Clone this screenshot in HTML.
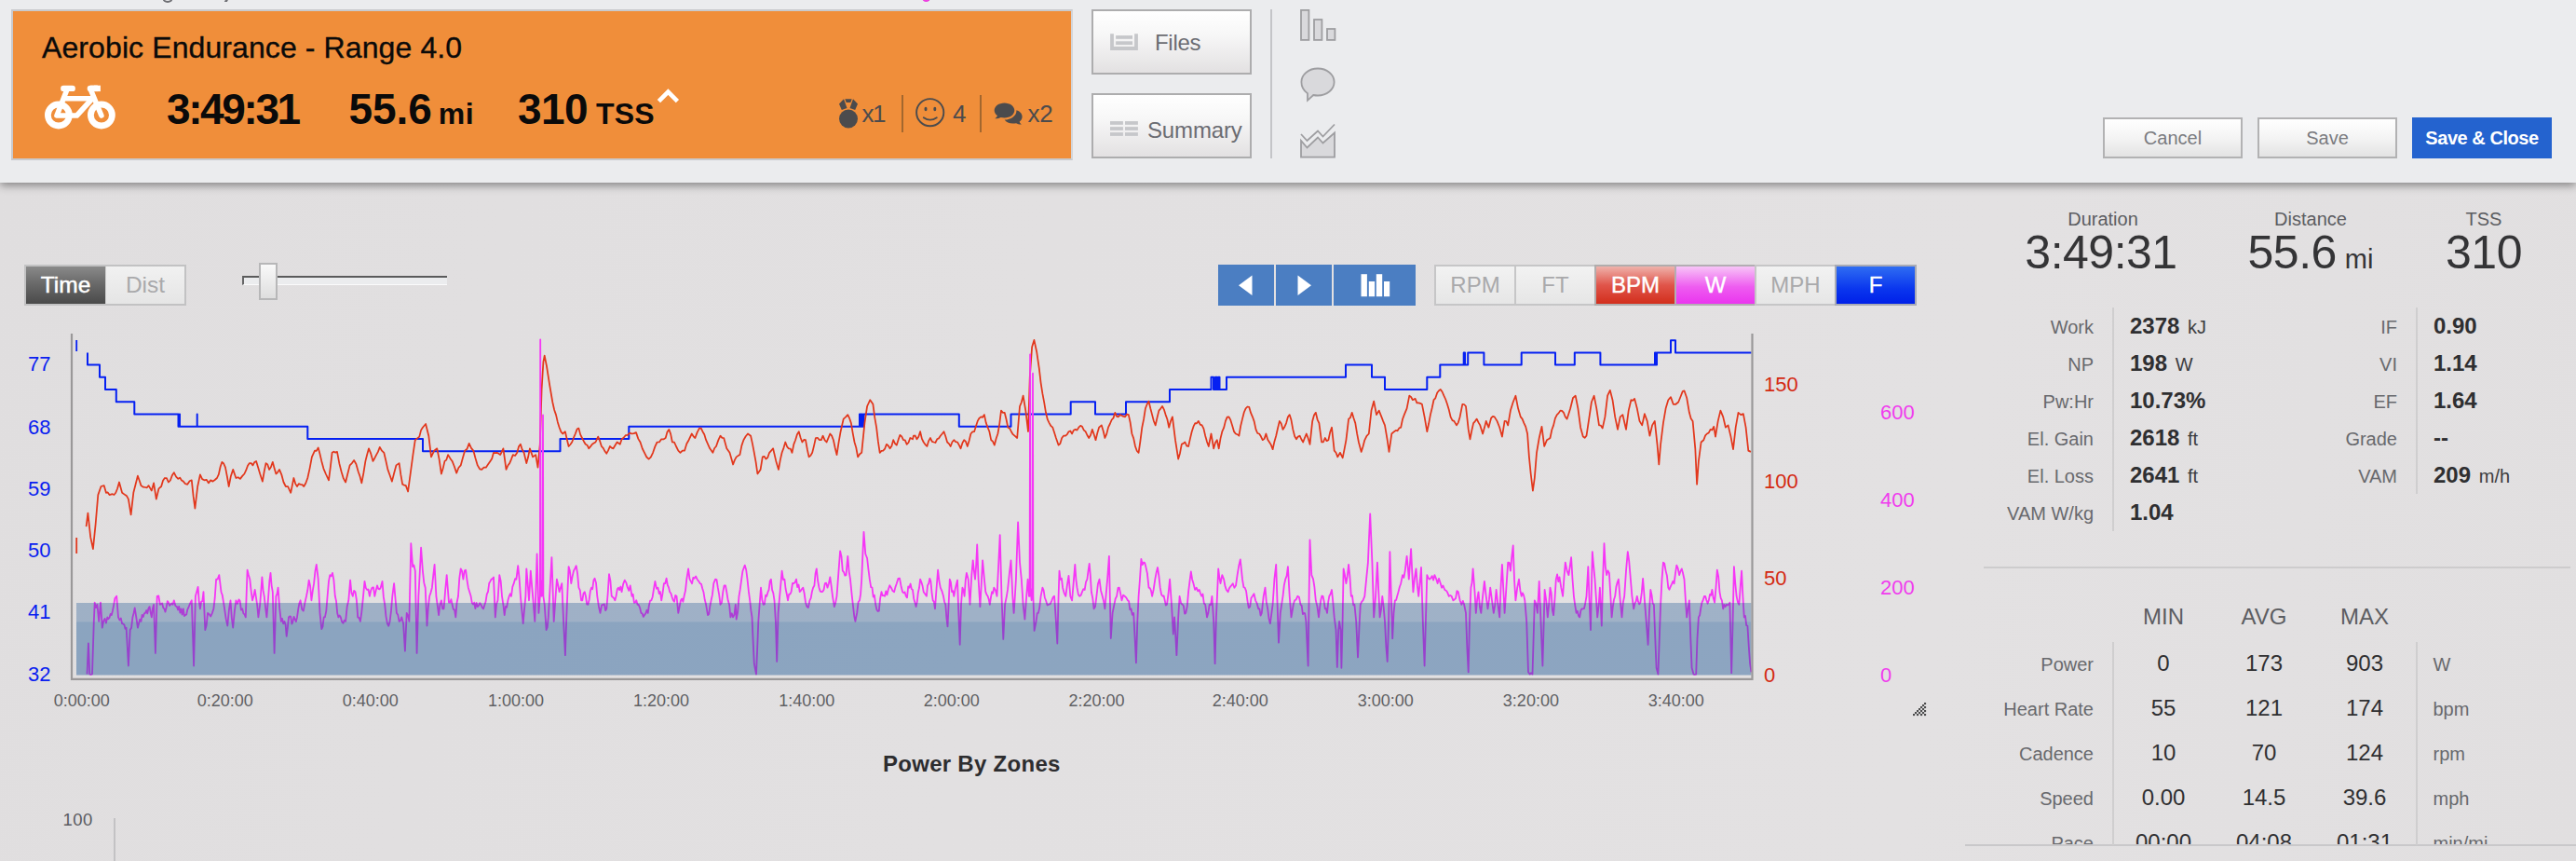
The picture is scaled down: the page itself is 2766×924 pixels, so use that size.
<!DOCTYPE html>
<html lang="en">
<head>
<meta charset="utf-8">
<title>Aerobic Endurance - Range 4.0</title>
<style>
html,body{margin:0;padding:0;}
body{width:2766px;height:924px;overflow:hidden;position:relative;background:#e2e0e1;font-family:"Liberation Sans",Arial,sans-serif;color:#3a3a3c;}
.abs{position:absolute;}
.t{position:absolute;white-space:nowrap;line-height:1;}
#bodybg{left:0;top:0;width:2766px;height:924px;background:linear-gradient(100deg,#e0dedf 0%,#e2e0e1 40%,#e3e1e2 75%,#e1dfe0 100%);}
#hdr{left:0;top:0;width:2766px;height:196px;background:#ebecee;box-shadow:0 3px 9px rgba(0,0,0,.42);}
#orange{left:12px;top:10px;width:1136px;height:158px;background:#f08e3a;border:2px solid #c9cacd;border-right-color:#d4d5d8;}
.btn{position:absolute;box-sizing:border-box;border:2px solid #adadae;background:linear-gradient(#ffffff 0%,#f7f7f7 38%,#e3e1e2 100%);color:#6f7078;}
.btn2{position:absolute;box-sizing:border-box;border:2px solid #b2b2b3;background:linear-gradient(#ffffff 0%,#f4f4f4 50%,#e3e3e3 100%);color:#7a7b7f;font-size:20px;text-align:center;}
.seg{position:absolute;top:284px;height:44px;box-sizing:border-box;font-size:24px;text-align:center;line-height:39px;}
.off{background:linear-gradient(#f2f2f2,#e6e6e6);color:#a9a9ab;border:2px solid #c6c6c7;}
.lab{position:absolute;white-space:nowrap;line-height:1;font-size:20px;color:#68696d;text-align:right;}
.val{position:absolute;white-space:nowrap;line-height:1;font-size:24px;font-weight:bold;color:#2f2f31;}
.val span{font-weight:normal;font-size:20px;margin-left:2px;color:#3c3c3e;}
.num{position:absolute;white-space:nowrap;line-height:1;font-size:24px;color:#2f2f31;text-align:center;width:120px;}
.unit{position:absolute;white-space:nowrap;line-height:1;font-size:20px;color:#68696d;}
.ax{position:absolute;white-space:nowrap;line-height:1;font-size:22px;}
</style>
</head>
<body>
<div id="bodybg" class="abs"></div>

<svg class="abs" style="left:0;top:340px" width="2120" height="420" viewBox="0 340 2120 420">
<g fill="none" stroke-linejoin="round">
<path d="M82.2 365 V377" stroke="#0520f2" stroke-width="1.8"/>
<path d="M82.2 577 V594" stroke="#e0391f" stroke-width="1.8"/>
<path d="M94.0 378.4 L94.0 391.6 L107.0 391.6 L107.0 404.8 L113.0 404.8 L113.0 418.0 L124.8 418.0 L124.8 431.3 L144.3 431.3 L144.3 444.5 L191.5 444.5 L191.5 457.7 L193.0 457.7 L193.0 444.5 L193.0 457.7 L211.7 457.7 L211.7 444.5 L211.7 457.7 L330.3 457.7 L330.3 471.0 L454.0 471.0 L454.0 484.3 L601.5 484.3 L601.5 471.0 L675.3 471.0 L675.3 457.7 L923.0 457.7 L923.0 444.5 L924.0 444.5 L924.0 457.7 L925.0 457.7 L925.0 444.5 L926.0 444.5 L926.0 457.7 L927.5 457.7 L927.5 444.5 L1029.8 444.5 L1029.8 457.7 L1085.5 457.7 L1085.5 444.5 L1149.7 444.5 L1149.7 431.3 L1176.0 431.3 L1176.0 444.5 L1209.0 444.5 L1209.0 431.3 L1256.0 431.3 L1256.0 418.0 L1300.5 418.0 L1300.5 404.8 L1303.0 404.8 L1303.0 418.0 L1305.0 418.0 L1305.0 404.8 L1306.5 404.8 L1306.5 418.0 L1308.0 418.0 L1308.0 404.8 L1309.5 404.8 L1309.5 418.0 L1317.0 418.0 L1317.0 404.8 L1445.0 404.8 L1445.0 391.6 L1473.0 391.6 L1473.0 404.8 L1487.0 404.8 L1487.0 418.0 L1532.3 418.0 L1532.3 404.8 L1546.3 404.8 L1546.3 391.6 L1571.7 391.6 L1571.7 378.4 L1573.0 378.4 L1573.0 391.6 L1576.2 391.6 L1576.2 378.4 L1593.4 378.4 L1593.4 391.6 L1633.7 391.6 L1633.7 378.4 L1670.0 378.4 L1670.0 391.6 L1690.8 391.6 L1690.8 378.4 L1718.4 378.4 L1718.4 391.6 L1777.0 391.6 L1777.0 378.4 L1778.0 378.4 L1778.0 391.6 L1779.0 391.6 L1779.0 378.4 L1794.0 378.4 L1794.0 365.2 L1799.0 365.2 L1799.0 378.4 L1880.5 378.4" stroke="#0520f2" stroke-width="2"/>
<path d="M92.6 565.1 L94.4 550.6 L97.2 576.4 L99.9 589.1 L102.6 562.8 L105.3 531.1 L108.5 522.0 L111.7 521.1 L113.9 528.8 L115.7 528.4 L117.5 531.1 L120.7 530.2 L122.5 531.0 L124.3 528.8 L126.1 524.3 L128.0 517.5 L131.1 528.8 L134.3 531.1 L136.1 532.3 L137.9 535.6 L140.6 552.4 L143.3 528.8 L145.6 519.8 L147.9 510.7 L149.7 515.7 L151.5 521.1 L153.8 522.7 L156.0 523.0 L157.8 523.3 L159.6 521.1 L162.8 526.6 L165.1 518.4 L167.8 535.6 L170.5 524.3 L173.2 522.0 L175.0 515.7 L176.9 513.0 L178.9 513.2 L180.9 517.5 L182.9 515.5 L184.8 510.3 L186.8 507.1 L189.1 511.7 L191.3 513.9 L193.1 512.6 L195.0 515.5 L196.8 516.6 L199.0 519.2 L201.3 519.8 L203.6 516.3 L205.8 515.3 L207.6 532.4 L209.4 545.6 L212.2 522.0 L214.9 509.4 L217.1 514.1 L219.4 515.3 L221.7 514.8 L223.9 518.4 L226.2 515.4 L228.5 516.6 L230.7 515.0 L233.0 513.0 L234.8 509.2 L236.6 501.0 L238.4 495.8 L240.2 497.5 L242.0 501.7 L243.9 511.5 L245.7 522.0 L247.9 510.9 L250.2 503.9 L253.4 513.0 L255.6 512.2 L257.9 513.9 L260.2 510.9 L262.4 508.5 L264.2 504.7 L266.0 499.7 L267.9 497.1 L269.7 497.1 L271.5 499.4 L273.3 495.9 L275.1 494.9 L277.1 501.5 L279.2 508.5 L281.9 516.6 L283.7 506.0 L285.5 497.1 L287.3 498.4 L289.1 503.9 L290.9 501.3 L292.8 495.8 L294.6 502.4 L296.4 508.5 L298.2 506.8 L300.0 503.9 L302.3 509.3 L304.5 517.5 L306.8 522.0 L309.1 522.0 L312.2 528.8 L315.4 513.0 L317.2 519.1 L319.0 522.0 L320.8 519.2 L322.6 519.8 L324.4 520.2 L326.3 522.0 L328.3 518.5 L330.3 513.0 L332.6 502.6 L334.9 490.4 L338.0 483.6 L339.8 483.9 L341.7 480.4 L343.5 487.3 L345.3 494.9 L347.5 503.1 L349.8 508.5 L353.0 515.3 L354.8 501.3 L356.6 485.8 L358.4 484.7 L360.2 485.6 L362.0 484.9 L364.3 497.2 L366.6 506.2 L368.8 513.4 L371.1 517.5 L373.3 508.5 L375.6 499.4 L377.9 497.1 L380.1 494.0 L382.4 498.0 L384.7 506.2 L386.5 511.2 L388.3 518.4 L390.3 508.0 L392.4 494.9 L394.2 487.7 L396.0 481.3 L398.2 486.7 L400.5 494.9 L402.3 491.7 L404.1 488.1 L405.9 484.9 L407.8 479.9 L410.0 483.7 L412.3 485.8 L414.3 494.3 L416.4 503.9 L418.6 510.0 L420.9 516.6 L423.1 508.0 L425.4 499.4 L428.6 497.1 L430.4 509.7 L432.2 519.8 L434.0 520.6 L435.8 521.1 L438.1 527.5 L441.3 503.9 L443.5 487.6 L445.8 472.2 L448.1 470.4 L450.3 468.6 L452.1 461.6 L453.9 458.7 L457.1 455.0 L460.3 467.7 L463.0 490.4 L466.2 483.6 L469.3 481.3 L471.6 492.9 L473.9 508.5 L475.7 502.6 L477.5 494.9 L479.3 493.6 L481.1 488.1 L483.4 491.9 L485.6 494.9 L487.9 500.8 L490.2 507.6 L492.4 502.0 L494.7 499.4 L496.9 491.5 L499.2 483.6 L501.5 481.8 L503.7 475.9 L506.0 480.9 L508.3 483.6 L510.5 491.7 L512.8 499.4 L515.1 503.3 L517.3 503.9 L519.6 501.6 L521.8 501.7 L524.1 498.3 L526.4 494.9 L528.2 492.3 L530.0 485.8 L531.8 486.2 L533.6 485.8 L535.4 486.8 L537.2 488.1 L540.4 481.3 L543.5 503.9 L545.4 499.5 L547.2 497.1 L549.0 492.8 L550.8 488.1 L553.1 489.0 L555.3 485.8 L557.1 479.1 L558.9 476.8 L560.7 482.5 L562.6 485.8 L565.3 497.1 L567.1 490.6 L568.9 481.3 L572.1 490.4 L575.2 488.1 L577.5 501.7 L579.8 476.8 L581.6 417.9 L583.4 388.5 L584.7 381.7 L587.0 393.0 L590.2 413.4 L593.3 431.5 L595.2 440.0 L597.0 445.1 L598.8 452.9 L600.6 458.7 L602.4 463.4 L604.2 465.5 L606.9 463.2 L608.7 471.2 L610.6 479.0 L612.4 477.0 L614.2 474.5 L616.0 469.7 L617.8 465.5 L619.6 460.6 L621.4 459.6 L623.2 466.4 L625.0 470.0 L626.9 473.7 L628.7 476.8 L630.5 477.7 L632.3 481.3 L634.1 479.1 L635.9 476.8 L637.7 475.6 L639.5 474.5 L642.2 468.6 L644.1 473.2 L645.9 479.0 L647.7 480.9 L649.5 484.3 L651.3 486.7 L653.1 483.4 L654.9 479.0 L656.7 480.7 L658.5 481.3 L660.6 477.7 L662.6 474.5 L665.8 476.8 L667.6 471.3 L669.4 470.0 L671.7 467.2 L673.9 466.8 L676.2 464.7 L678.5 465.5 L680.7 465.1 L683.0 464.1 L685.3 470.9 L687.5 474.5 L689.8 481.5 L692.0 485.8 L694.3 490.5 L696.6 492.6 L698.8 490.6 L701.1 485.8 L703.4 479.1 L705.6 474.5 L707.9 474.4 L710.2 471.3 L712.4 471.4 L714.7 470.0 L716.5 463.6 L718.3 460.9 L720.1 465.6 L721.9 474.5 L724.0 474.6 L726.0 479.0 L728.3 483.6 L730.5 485.8 L732.8 483.6 L735.1 483.6 L737.3 476.2 L739.6 472.2 L742.8 465.5 L744.6 468.3 L746.4 470.0 L748.6 464.1 L750.9 459.6 L752.7 459.5 L754.5 463.2 L756.3 466.2 L758.1 472.2 L760.2 476.9 L762.2 481.3 L765.4 485.8 L767.2 481.0 L769.0 479.0 L771.3 472.4 L773.5 467.7 L775.4 469.8 L777.2 470.0 L780.3 481.3 L783.5 485.8 L785.3 492.0 L787.1 498.5 L788.9 493.6 L790.7 490.4 L792.6 489.1 L794.4 488.1 L796.4 478.1 L798.4 472.2 L800.7 468.3 L803.0 465.5 L806.1 467.7 L808.0 476.4 L809.8 485.8 L811.6 495.8 L813.4 508.5 L816.6 503.9 L818.8 490.4 L820.6 489.8 L822.4 492.6 L824.3 491.0 L826.1 485.8 L828.1 483.6 L830.1 481.3 L833.3 494.9 L836.0 503.9 L837.8 493.6 L839.6 485.8 L841.5 480.6 L843.3 474.5 L845.1 479.3 L846.9 481.3 L848.7 481.5 L850.5 485.8 L852.3 476.9 L854.1 472.2 L855.9 466.2 L857.8 463.2 L859.6 469.8 L861.4 474.5 L863.2 471.9 L865.0 472.2 L866.8 482.2 L868.6 490.4 L870.4 488.9 L872.2 485.8 L874.1 478.1 L875.9 470.0 L877.9 469.9 L879.9 472.2 L881.8 472.1 L883.6 467.7 L885.6 472.4 L887.6 474.5 L889.4 470.1 L891.3 465.5 L893.1 467.6 L894.9 472.2 L896.7 480.8 L898.5 488.1 L900.5 475.2 L902.6 463.2 L905.7 449.6 L908.0 447.7 L910.3 445.1 L912.1 448.8 L913.9 454.1 L915.7 464.9 L917.5 474.5 L919.3 480.5 L921.1 490.4 L923.2 487.2 L925.2 485.8 L928.4 454.1 L931.1 436.0 L934.3 429.2 L937.4 433.8 L939.3 448.3 L941.1 458.7 L942.9 473.9 L944.7 485.8 L946.5 483.8 L948.3 483.6 L950.1 481.7 L951.9 476.8 L953.7 478.2 L955.6 481.3 L957.4 478.7 L959.2 472.2 L961.0 476.0 L962.8 477.7 L964.6 471.9 L966.4 466.8 L968.2 468.4 L970.0 472.2 L971.8 472.3 L973.7 476.8 L975.5 475.0 L977.3 470.0 L980.0 471.3 L980.9 467.7 L982.7 467.5 L984.5 471.3 L986.3 468.7 L988.1 463.2 L989.9 470.9 L991.7 474.5 L993.5 477.1 L995.4 479.0 L997.2 473.1 L999.0 470.0 L1000.8 473.9 L1002.6 474.5 L1004.4 475.0 L1006.2 471.3 L1008.0 470.4 L1009.8 467.7 L1011.7 465.5 L1013.5 463.2 L1015.3 468.3 L1017.1 474.5 L1018.9 476.1 L1020.7 479.0 L1022.5 474.3 L1024.3 472.2 L1026.1 474.1 L1028.0 474.5 L1029.8 477.6 L1031.6 481.3 L1033.4 475.4 L1035.2 472.2 L1037.0 473.9 L1038.8 479.0 L1040.6 473.0 L1042.4 465.5 L1044.3 463.4 L1046.1 463.2 L1047.9 457.5 L1049.7 451.9 L1051.5 448.8 L1053.3 447.3 L1055.1 447.8 L1056.9 445.1 L1058.7 453.6 L1060.6 458.7 L1062.4 463.3 L1064.2 472.2 L1066.0 473.6 L1067.8 477.7 L1069.6 470.8 L1071.4 465.5 L1073.2 455.1 L1075.0 440.6 L1076.9 442.9 L1078.7 442.8 L1080.5 450.0 L1082.3 458.7 L1084.1 459.7 L1085.9 463.2 L1087.7 466.2 L1089.5 467.7 L1092.2 470.0 L1095.0 436.0 L1096.8 431.8 L1098.6 424.7 L1101.3 440.6 L1104.0 463.2 L1105.8 404.3 L1108.1 372.6 L1110.4 364.9 L1113.1 377.2 L1115.8 395.3 L1117.6 410.8 L1119.4 422.4 L1121.2 431.9 L1123.0 442.8 L1124.8 450.2 L1126.7 454.1 L1128.5 457.2 L1130.3 458.7 L1132.1 464.3 L1133.9 470.0 L1136.6 477.7 L1138.4 476.0 L1140.2 470.0 L1142.0 467.7 L1143.9 467.7 L1145.7 466.4 L1147.5 463.2 L1149.3 462.5 L1151.1 465.5 L1152.9 461.7 L1154.7 460.9 L1156.5 461.6 L1158.3 458.7 L1160.2 456.9 L1162.0 457.8 L1163.8 461.6 L1165.6 463.2 L1167.4 467.0 L1169.2 470.0 L1171.0 467.0 L1172.8 460.9 L1174.6 466.0 L1176.5 472.2 L1178.3 464.7 L1180.1 458.7 L1182.8 456.4 L1184.6 462.3 L1186.4 470.0 L1188.2 465.9 L1190.0 458.7 L1191.8 455.0 L1193.7 450.5 L1195.5 448.7 L1197.3 442.8 L1199.1 446.8 L1200.9 447.3 L1202.7 445.1 L1204.5 446.0 L1206.3 446.9 L1208.1 447.3 L1210.0 444.5 L1211.8 445.1 L1213.6 453.2 L1215.4 465.5 L1217.2 470.4 L1219.0 479.0 L1220.8 484.0 L1222.6 485.8 L1224.4 473.5 L1226.3 458.7 L1228.1 449.9 L1229.9 438.3 L1231.7 433.7 L1233.5 430.6 L1235.3 438.3 L1237.1 445.1 L1238.9 452.0 L1240.7 456.4 L1242.6 447.9 L1244.4 440.6 L1246.2 438.6 L1248.0 436.0 L1249.8 439.3 L1251.6 445.1 L1253.4 450.0 L1255.2 458.7 L1257.0 452.0 L1258.9 447.3 L1262.0 472.2 L1265.2 492.6 L1267.0 486.4 L1268.8 476.8 L1270.6 475.9 L1272.4 474.5 L1274.3 478.6 L1276.1 479.0 L1277.9 470.9 L1279.7 463.2 L1281.5 457.7 L1283.3 454.1 L1285.1 454.3 L1286.9 451.9 L1288.7 455.6 L1290.6 456.4 L1292.4 459.9 L1294.2 467.7 L1296.0 474.1 L1297.8 479.0 L1300.5 465.5 L1303.2 481.3 L1305.0 475.0 L1306.8 472.2 L1308.7 481.3 L1310.5 470.6 L1312.3 463.2 L1314.1 459.2 L1315.9 451.9 L1317.7 447.6 L1319.5 447.3 L1321.3 450.7 L1323.1 456.4 L1325.0 463.1 L1326.8 465.5 L1328.6 466.2 L1330.4 467.7 L1332.2 457.0 L1334.0 449.6 L1335.8 442.5 L1337.6 438.3 L1339.4 436.5 L1341.3 436.9 L1343.1 443.2 L1344.9 447.3 L1346.7 452.4 L1348.5 460.9 L1350.3 465.0 L1352.1 465.5 L1353.9 468.3 L1355.7 472.2 L1357.6 470.9 L1359.4 465.5 L1361.2 471.8 L1363.0 474.5 L1364.8 477.4 L1366.6 482.2 L1368.4 473.9 L1370.2 467.7 L1372.0 459.7 L1373.9 451.9 L1375.7 454.6 L1377.5 460.9 L1379.3 458.2 L1381.1 454.1 L1382.9 447.6 L1384.7 445.1 L1386.5 450.8 L1388.3 460.9 L1390.2 468.3 L1392.0 471.3 L1393.8 468.6 L1395.6 467.7 L1397.4 471.5 L1399.2 474.5 L1401.0 469.8 L1402.8 465.5 L1404.6 470.3 L1406.5 476.8 L1409.2 451.9 L1411.0 445.4 L1412.8 442.8 L1414.6 450.3 L1416.4 454.1 L1419.1 474.5 L1420.9 474.3 L1422.8 470.0 L1424.6 473.2 L1426.4 472.2 L1428.2 463.7 L1430.0 458.7 L1432.7 483.6 L1434.5 485.7 L1436.3 490.4 L1439.0 485.8 L1441.7 491.3 L1443.5 482.3 L1445.4 472.3 L1448.1 449.6 L1449.9 448.3 L1451.7 442.8 L1453.5 448.7 L1455.3 454.1 L1457.1 465.2 L1458.9 474.5 L1461.7 484.9 L1463.5 479.3 L1465.3 472.3 L1467.5 467.8 L1469.8 465.5 L1472.5 440.6 L1475.2 430.6 L1478.0 445.1 L1480.7 440.6 L1483.4 447.4 L1485.2 452.1 L1487.0 456.4 L1489.7 472.3 L1491.5 484.9 L1494.3 465.5 L1497.0 463.2 L1498.8 461.9 L1500.6 462.3 L1502.4 459.4 L1504.2 458.7 L1506.0 450.0 L1507.8 445.1 L1510.6 438.3 L1513.3 424.7 L1515.1 426.0 L1516.9 429.2 L1519.6 427.9 L1521.4 432.3 L1523.2 432.4 L1525.0 432.9 L1526.9 433.8 L1529.6 447.4 L1532.3 463.2 L1534.1 454.8 L1535.9 445.1 L1537.7 437.8 L1539.5 429.2 L1541.3 427.3 L1543.2 421.5 L1545.0 419.2 L1546.8 417.9 L1548.6 420.5 L1550.4 424.7 L1552.2 428.5 L1554.0 433.8 L1555.8 439.8 L1557.6 447.4 L1559.5 451.1 L1561.3 451.9 L1564.0 456.4 L1565.8 453.6 L1567.6 447.4 L1570.3 433.8 L1572.1 434.0 L1574.0 436.0 L1576.7 460.9 L1578.5 471.3 L1580.3 462.0 L1582.1 454.1 L1583.9 452.1 L1585.7 449.6 L1587.5 453.4 L1589.3 456.4 L1592.1 465.5 L1593.9 459.1 L1595.7 451.9 L1598.4 458.7 L1601.1 448.7 L1602.9 446.9 L1604.7 447.4 L1607.5 451.9 L1610.2 458.7 L1612.9 468.6 L1615.6 451.9 L1617.4 452.0 L1619.2 456.4 L1621.9 440.6 L1624.7 431.5 L1627.4 424.7 L1630.1 438.3 L1632.8 447.4 L1634.6 449.6 L1636.4 454.1 L1638.2 457.9 L1640.1 465.5 L1641.9 490.4 L1643.7 508.5 L1645.9 526.6 L1647.8 513.0 L1650.0 485.8 L1652.7 470.0 L1655.5 457.8 L1658.2 479.0 L1660.9 472.3 L1662.7 471.3 L1664.5 470.0 L1666.3 461.3 L1668.1 456.4 L1669.9 448.9 L1671.8 445.1 L1673.6 443.4 L1675.4 440.6 L1677.2 440.8 L1679.0 442.8 L1680.8 447.5 L1682.6 449.6 L1684.4 443.9 L1686.2 438.3 L1689.0 427.0 L1691.7 424.7 L1694.4 438.3 L1697.1 458.7 L1699.8 468.6 L1701.6 469.8 L1703.5 467.7 L1706.2 449.6 L1708.9 431.5 L1711.6 424.7 L1714.3 438.3 L1717.0 456.4 L1718.8 456.5 L1720.7 459.6 L1723.4 447.4 L1726.1 424.7 L1728.8 418.8 L1731.5 429.2 L1734.2 447.4 L1737.0 460.9 L1739.7 447.4 L1742.4 445.1 L1744.2 453.0 L1746.0 460.9 L1748.7 440.6 L1751.4 429.2 L1753.3 429.9 L1755.1 427.9 L1757.8 438.3 L1760.5 451.9 L1763.2 456.4 L1765.9 444.2 L1768.7 451.9 L1771.4 467.7 L1774.1 456.4 L1776.8 451.9 L1779.5 476.8 L1781.3 498.5 L1783.1 476.8 L1785.9 454.1 L1788.6 438.3 L1791.3 429.2 L1794.0 426.1 L1796.7 433.8 L1799.4 433.8 L1802.2 431.5 L1804.9 424.7 L1806.7 420.1 L1808.5 419.3 L1811.2 427.0 L1813.9 442.8 L1815.7 449.3 L1817.6 451.9 L1820.3 481.3 L1822.1 519.8 L1823.9 494.9 L1826.6 474.5 L1829.3 472.3 L1831.1 467.4 L1832.9 465.5 L1834.8 464.4 L1836.6 460.9 L1838.4 461.5 L1840.2 457.8 L1842.0 468.6 L1844.7 451.9 L1847.4 440.6 L1850.2 447.4 L1852.9 458.7 L1855.6 456.4 L1858.3 467.7 L1861.0 482.2 L1863.7 458.7 L1866.5 442.8 L1869.2 445.1 L1871.9 444.2 L1874.6 458.7 L1877.3 483.6 L1880.0 484.9" stroke="#e2371c" stroke-width="1.75"/>
<path d="M93.5 723.5 L94.9 690.5 L96.3 723.5 L97.6 724.0 L99.0 723.5 L100.8 666.9 L101.7 646.6 L103.1 652.2 L104.4 648.8 L106.2 666.9 L108.0 646.6 L109.8 673.7 L111.2 666.5 L112.6 663.9 L113.9 668.6 L115.3 662.4 L116.4 664.2 L117.5 663.0 L118.7 658.8 L119.8 660.1 L121.0 655.2 L122.2 649.1 L123.4 642.0 L125.2 639.8 L127.0 662.4 L128.4 665.5 L129.8 663.5 L131.1 669.2 L132.3 669.6 L133.4 670.4 L134.5 674.8 L135.6 673.7 L136.8 694.1 L137.9 714.5 L139.7 676.0 L141.1 673.7 L142.4 662.4 L143.6 657.9 L144.7 652.4 L146.3 662.5 L147.9 673.7 L149.1 669.1 L150.3 664.6 L151.5 666.9 L152.6 659.9 L153.8 662.0 L154.9 658.3 L156.0 657.9 L157.2 655.0 L158.3 658.4 L159.4 653.0 L160.6 651.1 L161.7 657.3 L162.8 662.4 L163.9 653.0 L165.1 648.8 L166.9 700.9 L168.7 639.8 L170.3 639.5 L171.9 648.8 L173.0 648.2 L174.1 647.4 L175.3 652.3 L176.4 653.3 L177.5 656.6 L178.7 651.7 L179.8 645.1 L180.9 646.6 L182.1 650.0 L183.3 648.6 L184.5 647.5 L185.6 648.8 L186.8 644.3 L188.4 650.3 L190.0 651.1 L191.1 654.5 L192.2 650.8 L193.4 657.6 L194.5 653.3 L195.6 659.7 L196.8 653.4 L197.9 661.0 L199.0 660.1 L200.2 659.5 L201.3 654.1 L202.4 652.0 L203.6 648.8 L204.7 646.5 L205.8 644.3 L207.0 679.4 L208.1 714.5 L209.9 639.8 L211.3 634.8 L212.6 629.8 L213.7 644.9 L214.9 653.3 L216.1 645.8 L217.3 645.1 L218.5 635.2 L220.3 676.0 L221.7 670.9 L223.0 657.9 L224.6 659.3 L226.2 661.5 L227.8 658.1 L229.4 653.3 L230.7 641.7 L232.1 621.7 L233.7 621.6 L235.3 617.1 L236.4 626.0 L237.5 635.2 L238.7 638.5 L239.9 645.6 L241.1 653.3 L242.7 664.4 L244.3 671.5 L245.9 654.5 L247.5 644.3 L248.8 663.1 L250.2 673.7 L251.8 656.7 L253.4 644.3 L255.0 648.0 L256.5 643.4 L257.7 644.8 L258.9 654.6 L260.2 653.3 L261.4 658.4 L262.6 659.4 L263.8 662.4 L265.6 611.7 L266.9 616.9 L268.3 621.7 L269.7 634.5 L271.0 644.3 L272.4 639.5 L273.7 633.0 L274.9 640.9 L276.2 649.7 L277.4 662.4 L279.2 648.8 L280.3 634.2 L281.4 619.4 L282.6 633.9 L283.7 639.8 L285.1 652.3 L286.4 662.4 L288.2 639.8 L289.4 623.1 L290.5 614.9 L291.6 628.3 L292.8 635.2 L294.6 700.9 L296.4 639.8 L297.5 637.5 L298.6 630.7 L300.2 652.9 L301.8 666.9 L303.0 663.8 L304.2 669.4 L305.4 666.9 L306.6 670.4 L307.7 682.8 L308.8 674.1 L310.0 662.4 L311.1 661.3 L312.2 661.9 L313.4 669.6 L314.5 666.9 L315.6 661.9 L316.8 664.9 L317.9 667.1 L319.0 662.4 L320.2 653.8 L321.4 647.4 L322.6 644.3 L324.2 653.8 L325.8 655.6 L327.4 646.9 L329.0 639.8 L330.3 633.3 L331.7 622.6 L333.1 628.7 L334.4 644.3 L335.8 633.9 L337.1 626.2 L338.5 612.7 L339.8 605.8 L341.7 621.7 L343.5 657.9 L345.3 675.1 L346.5 672.6 L347.7 662.5 L348.9 662.4 L350.3 655.6 L351.6 639.8 L353.0 623.7 L354.3 617.1 L355.7 618.3 L357.0 614.9 L358.4 622.5 L359.8 639.8 L361.0 644.9 L362.2 658.0 L363.4 662.4 L364.6 660.5 L365.8 662.3 L367.0 666.9 L368.4 668.8 L369.7 665.8 L371.1 666.9 L372.7 651.0 L374.3 644.3 L376.1 622.6 L377.4 636.1 L378.8 639.8 L380.1 634.0 L381.5 635.2 L382.9 644.2 L384.2 662.4 L385.6 663.1 L386.9 666.9 L388.3 656.8 L389.6 644.3 L391.5 623.9 L392.8 630.9 L394.2 633.0 L395.5 632.5 L396.9 639.8 L398.2 633.6 L399.6 630.7 L401.0 630.5 L402.3 639.8 L403.7 633.6 L405.0 628.4 L406.2 631.9 L407.5 632.4 L408.7 630.7 L410.5 623.9 L411.8 640.4 L413.2 648.8 L414.5 661.6 L415.9 669.2 L417.3 671.7 L418.6 666.9 L420.0 655.4 L421.3 639.8 L423.1 626.2 L424.5 641.8 L425.9 657.9 L427.2 659.7 L428.6 666.9 L429.9 666.3 L431.3 662.4 L433.1 669.2 L434.9 698.6 L436.7 657.9 L438.1 660.6 L439.4 666.9 L441.3 583.2 L443.1 608.1 L444.4 606.4 L445.8 612.6 L447.6 700.9 L449.4 639.8 L450.8 613.7 L452.1 587.7 L453.9 612.6 L455.3 625.4 L456.7 630.7 L458.5 671.5 L459.8 651.9 L461.2 639.8 L462.5 636.1 L463.9 630.7 L465.3 617.2 L466.6 605.8 L468.4 639.8 L469.8 650.1 L471.1 660.1 L472.5 648.7 L473.9 644.3 L475.2 653.4 L476.6 653.3 L478.2 632.8 L479.7 617.1 L480.9 632.9 L482.0 646.6 L483.2 646.5 L484.4 643.2 L485.6 648.8 L486.8 653.9 L488.0 654.3 L489.3 662.4 L490.6 646.6 L492.0 639.8 L493.3 620.4 L494.7 610.3 L496.0 612.6 L497.4 621.7 L498.8 612.6 L500.1 611.7 L501.5 622.6 L502.8 630.7 L504.2 635.3 L505.6 639.8 L506.8 646.9 L508.0 648.6 L509.2 646.6 L510.4 653.0 L511.6 646.9 L512.8 651.1 L514.0 649.8 L515.2 647.1 L516.4 648.8 L517.8 652.0 L519.1 653.3 L520.3 649.3 L521.5 645.8 L522.8 637.5 L524.0 635.1 L525.2 626.0 L526.4 623.9 L527.6 621.6 L528.8 621.2 L530.0 619.4 L531.8 662.4 L533.1 648.4 L534.5 644.3 L536.3 617.1 L537.7 623.8 L539.0 639.8 L540.4 649.0 L541.7 660.1 L542.9 651.0 L544.1 651.8 L545.4 644.3 L546.6 640.2 L547.8 637.3 L549.0 639.8 L550.3 629.8 L551.7 626.2 L553.1 621.2 L554.4 621.7 L556.2 607.2 L557.6 620.6 L558.9 639.8 L560.3 654.7 L561.7 669.2 L563.0 654.1 L564.4 639.8 L565.3 610.3 L566.6 625.4 L568.0 644.3 L569.8 612.6 L571.2 629.9 L572.5 644.3 L574.3 666.9 L575.5 630.7 L576.6 594.5 L578.4 657.9 L579.9 639.8 L580.2 364.5 L580.6 621.7 L581.6 639.8 L582.6 621.7 L583.0 445.5 L583.4 639.8 L584.7 648.8 L586.6 676.0 L587.7 673.3 L588.8 662.4 L590.6 630.7 L592.4 598.1 L593.6 632.5 L594.7 666.9 L596.3 644.3 L597.9 621.7 L599.2 627.8 L600.6 635.2 L601.9 630.8 L603.3 626.2 L605.1 666.9 L606.9 703.1 L608.3 662.4 L609.4 635.2 L610.6 608.1 L611.9 612.6 L613.3 626.2 L614.6 618.6 L616.0 612.6 L617.3 610.1 L618.7 607.2 L620.1 615.7 L621.4 630.7 L622.8 633.4 L624.1 644.3 L625.3 644.3 L626.5 636.9 L627.8 635.2 L629.0 640.0 L630.2 648.5 L631.4 648.8 L632.6 643.9 L633.8 634.6 L635.0 630.7 L636.2 632.2 L637.4 622.8 L638.6 620.7 L640.0 625.4 L641.3 639.8 L642.9 650.7 L644.5 657.9 L646.1 649.4 L647.7 648.8 L648.9 648.4 L650.1 655.2 L651.3 653.3 L652.7 636.5 L654.0 616.2 L655.4 623.1 L656.7 639.8 L657.9 640.8 L659.1 641.9 L660.4 644.3 L661.6 639.6 L662.8 632.3 L664.0 630.7 L665.2 633.1 L666.4 629.5 L667.6 635.2 L669.2 626.7 L670.8 622.6 L672.4 625.4 L673.9 630.7 L675.3 633.9 L676.7 628.4 L678.5 639.8 L679.7 637.8 L680.9 646.8 L682.1 646.6 L683.3 644.2 L684.5 648.8 L685.7 648.8 L687.1 652.3 L688.4 657.9 L689.6 658.3 L690.8 661.9 L692.0 660.1 L693.3 658.3 L694.5 654.8 L695.7 657.9 L696.9 649.6 L698.1 644.6 L699.3 644.3 L700.6 641.0 L702.0 632.1 L703.4 623.9 L705.0 631.9 L706.5 630.7 L707.7 637.2 L708.9 635.0 L710.2 644.3 L711.5 636.8 L712.9 626.2 L714.2 626.2 L715.6 620.7 L716.8 627.8 L718.0 630.4 L719.2 635.2 L720.4 636.8 L721.6 640.8 L722.8 644.3 L724.0 645.8 L725.2 639.0 L726.5 639.8 L728.3 657.9 L729.6 651.3 L731.0 644.3 L732.2 642.6 L733.4 645.8 L734.6 639.8 L736.0 633.8 L737.3 621.7 L739.1 610.3 L740.5 621.4 L741.8 623.9 L743.1 626.2 L744.3 619.8 L745.5 620.7 L747.1 618.5 L748.6 621.7 L750.2 623.8 L751.8 626.2 L753.0 626.8 L754.2 631.5 L755.4 635.2 L756.8 643.8 L758.1 648.8 L760.0 660.1 L761.2 659.0 L762.4 650.4 L763.6 644.3 L764.9 638.4 L766.3 626.2 L768.1 621.7 L769.5 622.1 L770.8 630.7 L772.2 638.3 L773.5 648.8 L774.9 647.0 L776.3 635.2 L777.6 628.3 L779.0 628.4 L780.3 635.5 L781.7 644.3 L783.1 649.0 L784.4 662.4 L785.8 658.3 L787.1 662.4 L788.5 659.6 L789.8 648.8 L790.7 664.7 L792.1 657.1 L793.5 639.8 L794.8 632.2 L796.2 621.7 L797.4 613.0 L798.6 609.7 L799.8 606.7 L801.2 611.5 L802.5 621.7 L803.9 634.7 L805.2 644.3 L806.4 655.2 L807.5 662.4 L808.6 687.3 L809.8 712.2 L810.9 718.1 L812.0 723.5 L813.2 695.2 L814.3 666.9 L815.6 649.2 L817.0 630.7 L818.4 644.3 L819.7 648.8 L820.9 648.4 L822.1 638.7 L823.3 639.8 L824.5 635.4 L825.6 632.9 L826.7 623.8 L827.9 621.7 L829.1 633.1 L830.3 636.4 L831.5 644.3 L832.9 666.9 L834.2 709.9 L835.6 657.9 L836.9 642.8 L838.3 627.7 L839.6 612.6 L841.0 622.1 L842.4 621.7 L843.6 632.0 L844.8 637.5 L846.0 644.3 L847.2 637.7 L848.4 637.7 L849.6 635.2 L851.0 626.0 L852.3 626.2 L853.7 624.9 L855.0 621.7 L856.2 630.0 L857.5 627.5 L858.7 635.2 L859.9 633.8 L861.1 632.0 L862.3 630.7 L863.6 636.5 L865.0 646.4 L866.4 651.1 L867.9 652.1 L869.5 644.3 L870.7 641.8 L871.9 635.0 L873.1 630.7 L874.4 628.5 L875.6 615.4 L876.8 610.3 L878.1 623.0 L879.5 630.7 L880.8 634.6 L882.2 635.2 L883.4 634.8 L884.6 632.7 L885.8 626.2 L887.2 625.7 L888.5 630.7 L889.9 626.3 L891.3 619.4 L892.6 628.6 L894.0 639.8 L895.8 651.1 L897.1 647.1 L898.5 639.8 L899.7 623.6 L900.9 607.5 L902.1 591.3 L903.5 597.1 L904.8 612.6 L906.0 613.8 L907.3 617.7 L908.5 617.1 L910.3 596.8 L911.6 613.0 L913.0 621.7 L914.8 639.8 L916.0 650.3 L917.2 661.0 L918.4 666.9 L920.2 657.9 L921.6 646.3 L923.0 644.3 L924.1 637.4 L925.2 621.7 L926.3 596.3 L927.5 570.9 L929.3 594.5 L931.1 599.0 L932.5 611.4 L933.8 621.7 L935.2 630.2 L936.5 630.7 L937.7 640.6 L938.9 638.8 L940.2 648.8 L941.4 654.2 L942.6 656.0 L943.8 655.6 L945.1 642.4 L946.5 635.2 L947.7 639.2 L948.9 639.1 L950.1 639.8 L951.3 634.4 L952.5 638.3 L953.7 633.0 L955.3 628.2 L956.9 630.7 L958.5 634.1 L960.1 635.2 L961.4 630.1 L962.8 626.2 L964.4 621.0 L966.0 620.7 L967.5 628.7 L969.1 635.2 L970.3 636.4 L971.5 635.3 L972.8 639.8 L974.0 641.4 L975.2 629.5 L976.4 630.7 L977.6 626.5 L978.8 632.1 L980.0 633.0 L981.2 642.4 L982.4 646.6 L983.6 651.1 L984.7 646.3 L985.8 636.2 L987.0 630.8 L988.1 621.7 L989.3 624.5 L990.5 628.4 L991.7 635.2 L993.3 637.5 L994.9 639.8 L996.0 628.2 L997.2 626.2 L998.3 620.8 L999.4 623.9 L1000.6 636.6 L1001.7 644.3 L1002.8 645.6 L1004.0 653.3 L1005.5 632.5 L1007.1 611.7 L1008.5 624.0 L1009.8 630.7 L1011.4 634.3 L1013.0 639.8 L1014.1 646.0 L1015.3 648.8 L1016.4 663.5 L1017.5 672.4 L1018.7 647.0 L1019.8 621.7 L1020.9 624.8 L1022.1 635.2 L1023.2 634.1 L1024.3 639.8 L1025.5 632.8 L1026.7 627.9 L1028.0 622.6 L1029.3 657.9 L1030.7 691.8 L1032.0 648.8 L1033.4 630.7 L1034.5 633.2 L1035.6 639.8 L1036.8 622.4 L1037.9 614.9 L1039.7 621.7 L1041.5 648.8 L1043.3 617.1 L1044.7 601.3 L1045.8 612.0 L1047.0 621.7 L1048.1 607.8 L1049.2 584.5 L1050.6 621.7 L1052.4 651.1 L1053.8 626.2 L1055.1 601.3 L1056.9 621.7 L1058.3 635.2 L1059.4 637.9 L1060.6 639.8 L1061.7 643.1 L1062.8 648.8 L1063.9 641.5 L1065.1 635.2 L1066.2 636.7 L1067.3 630.7 L1068.9 633.3 L1070.5 639.8 L1072.3 603.5 L1073.7 574.1 L1075.5 639.8 L1077.3 685.9 L1079.1 648.8 L1080.9 639.8 L1082.1 632.2 L1083.2 621.7 L1084.3 611.3 L1085.5 601.3 L1087.3 639.8 L1088.6 657.9 L1089.8 640.1 L1090.9 621.7 L1092.0 591.1 L1093.1 560.5 L1095.0 603.5 L1096.8 621.7 L1098.6 648.8 L1100.4 664.7 L1102.2 639.8 L1103.6 621.7 L1104.9 639.8 L1105.6 639.8 L1106.1 380.3 L1106.5 630.7 L1107.6 644.3 L1108.6 630.7 L1109.0 400.7 L1109.4 639.8 L1110.6 676.9 L1112.6 666.9 L1113.7 658.2 L1114.9 657.9 L1116.2 652.1 L1117.6 639.8 L1119.4 630.7 L1120.6 633.3 L1121.8 641.2 L1123.0 644.3 L1124.6 649.5 L1126.2 648.8 L1127.8 648.1 L1129.4 644.3 L1130.7 641.0 L1132.1 639.8 L1133.9 666.9 L1135.3 690.5 L1136.6 639.8 L1137.5 612.6 L1138.7 622.0 L1139.9 620.6 L1141.1 630.7 L1142.7 636.6 L1144.3 639.8 L1145.9 627.8 L1147.5 618.0 L1149.3 639.8 L1151.1 644.3 L1152.7 625.4 L1154.3 605.8 L1155.4 621.8 L1156.5 630.7 L1157.9 638.2 L1159.3 639.8 L1160.6 638.8 L1162.0 635.2 L1163.3 632.2 L1164.7 633.0 L1166.0 624.6 L1167.4 621.7 L1168.5 612.9 L1169.7 604.9 L1170.8 617.4 L1171.9 635.2 L1173.3 642.1 L1174.6 653.3 L1176.0 651.1 L1177.4 639.8 L1178.9 626.8 L1180.5 621.7 L1182.1 633.9 L1183.7 639.8 L1185.1 645.3 L1186.4 653.3 L1187.8 636.1 L1189.1 621.7 L1190.9 596.8 L1191.8 639.8 L1192.8 685.0 L1194.6 657.9 L1196.4 648.8 L1197.7 642.5 L1199.1 639.8 L1200.5 631.0 L1201.8 630.7 L1203.2 637.1 L1204.5 644.3 L1206.1 638.7 L1207.7 639.8 L1209.3 641.4 L1210.9 644.3 L1212.1 645.2 L1213.3 654.3 L1214.5 653.3 L1215.8 659.8 L1217.2 657.9 L1218.6 684.6 L1219.9 711.3 L1221.3 666.9 L1222.6 639.8 L1224.0 621.2 L1225.4 599.9 L1226.7 606.0 L1228.1 603.5 L1229.2 604.1 L1230.3 608.1 L1231.9 615.4 L1233.5 630.7 L1234.7 631.1 L1235.9 633.6 L1237.1 639.8 L1238.7 632.5 L1240.3 621.7 L1241.7 614.1 L1243.0 609.0 L1244.4 618.4 L1245.7 630.7 L1247.1 638.2 L1248.4 639.8 L1249.6 639.4 L1250.7 644.3 L1251.8 649.6 L1253.0 648.8 L1254.6 636.6 L1256.1 621.7 L1258.0 648.8 L1259.8 680.5 L1261.1 662.4 L1262.3 682.8 L1263.4 703.1 L1265.2 662.4 L1266.6 639.8 L1268.1 647.5 L1269.7 648.8 L1270.9 650.3 L1272.1 658.6 L1273.3 657.9 L1274.7 650.8 L1276.1 635.2 L1277.4 624.4 L1278.8 613.5 L1280.1 621.7 L1281.5 626.2 L1283.1 632.9 L1284.7 630.7 L1286.2 634.3 L1287.8 633.0 L1289.0 637.0 L1290.2 639.7 L1291.5 637.5 L1292.8 647.5 L1294.2 648.8 L1296.0 662.4 L1297.3 658.1 L1298.7 648.8 L1300.1 649.1 L1301.4 639.8 L1303.2 666.9 L1304.6 712.2 L1305.9 662.4 L1307.1 636.4 L1308.2 610.3 L1309.3 619.5 L1310.5 626.2 L1312.3 617.1 L1314.1 621.7 L1315.5 629.0 L1316.8 633.0 L1318.6 635.2 L1319.8 631.6 L1321.0 629.7 L1322.2 628.4 L1323.8 626.3 L1325.4 630.7 L1327.0 628.5 L1328.6 617.1 L1330.2 607.3 L1331.8 600.4 L1332.9 610.8 L1334.0 621.7 L1335.4 630.1 L1336.7 630.7 L1338.1 634.4 L1339.4 644.3 L1340.8 652.3 L1342.2 651.1 L1343.5 641.7 L1344.9 639.8 L1346.5 637.3 L1348.1 644.3 L1349.6 647.3 L1351.2 653.3 L1352.4 653.4 L1353.6 660.5 L1354.8 657.9 L1356.7 639.8 L1358.5 630.7 L1359.8 645.9 L1361.2 653.3 L1362.5 663.9 L1363.9 669.2 L1365.3 658.4 L1366.6 648.8 L1368.4 621.7 L1370.2 605.8 L1371.6 648.8 L1373.0 689.6 L1374.8 657.9 L1376.1 649.2 L1377.5 639.8 L1378.8 628.1 L1380.2 621.7 L1381.6 618.2 L1382.9 608.1 L1384.7 639.8 L1386.5 662.4 L1387.7 655.3 L1388.9 648.2 L1390.2 644.3 L1391.7 643.4 L1393.3 639.8 L1394.9 640.8 L1396.5 648.8 L1397.7 650.0 L1398.9 659.1 L1400.1 657.9 L1401.2 658.4 L1402.4 666.9 L1403.5 690.7 L1404.6 714.5 L1405.6 639.8 L1406.5 579.5 L1408.3 617.1 L1410.1 621.7 L1411.4 630.0 L1412.8 644.3 L1414.4 650.9 L1416.0 662.4 L1417.1 652.5 L1418.2 644.3 L1419.4 639.5 L1420.5 639.8 L1421.6 645.0 L1422.8 653.3 L1423.9 653.1 L1425.0 657.9 L1426.2 646.2 L1427.3 639.8 L1428.6 637.5 L1430.0 633.0 L1431.3 646.1 L1432.7 662.4 L1434.5 676.0 L1435.8 715.9 L1437.2 676.0 L1438.1 667.0 L1439.5 676.0 L1440.4 716.8 L1441.7 662.4 L1442.6 610.4 L1444.0 617.0 L1445.4 626.2 L1446.7 618.7 L1448.1 605.8 L1449.4 618.4 L1450.8 639.8 L1452.0 639.2 L1453.2 649.3 L1454.4 648.8 L1456.2 667.0 L1458.0 705.4 L1459.8 667.0 L1460.8 648.8 L1462.1 645.9 L1463.5 644.3 L1465.3 639.8 L1467.1 621.7 L1468.9 603.6 L1470.0 577.5 L1471.2 551.5 L1472.3 577.5 L1473.4 603.6 L1475.2 662.4 L1477.1 639.8 L1478.9 603.6 L1480.2 633.0 L1481.6 662.4 L1482.9 654.6 L1484.3 639.8 L1485.7 651.8 L1487.0 667.0 L1488.4 694.1 L1489.7 710.0 L1491.1 667.0 L1492.4 592.2 L1493.8 639.8 L1495.2 685.1 L1496.5 657.9 L1497.9 644.3 L1499.1 644.0 L1500.3 639.4 L1501.5 635.3 L1502.9 629.7 L1504.2 626.2 L1506.0 617.1 L1507.4 619.9 L1508.7 612.6 L1510.6 596.8 L1511.7 608.1 L1512.8 621.7 L1514.0 605.1 L1515.1 589.1 L1516.2 612.2 L1517.4 635.3 L1518.9 621.0 L1520.5 610.4 L1521.9 628.4 L1523.2 639.8 L1524.6 625.4 L1526.0 609.0 L1527.8 667.0 L1529.6 714.5 L1530.9 667.0 L1532.3 617.1 L1533.7 620.3 L1535.0 621.7 L1536.4 620.3 L1537.7 618.1 L1539.1 622.5 L1540.4 617.1 L1542.3 621.7 L1543.6 626.1 L1545.0 620.8 L1546.8 626.2 L1548.1 630.7 L1549.5 628.5 L1551.3 633.0 L1552.7 633.7 L1554.0 635.3 L1555.8 639.8 L1557.2 638.9 L1558.6 639.8 L1560.4 644.3 L1561.7 643.4 L1563.1 642.1 L1564.4 634.1 L1565.8 635.3 L1567.6 644.3 L1569.4 648.8 L1570.8 644.9 L1572.1 648.8 L1574.0 657.9 L1575.3 694.1 L1576.7 721.3 L1578.0 667.0 L1579.4 630.7 L1580.5 625.5 L1581.6 610.4 L1583.5 635.3 L1584.8 657.9 L1586.2 642.9 L1587.5 635.3 L1588.9 651.0 L1590.3 657.9 L1592.1 639.8 L1593.9 623.9 L1595.7 639.8 L1597.5 653.4 L1598.9 643.9 L1600.2 630.7 L1602.0 644.3 L1603.8 657.9 L1605.2 649.6 L1606.6 633.0 L1608.4 648.8 L1610.2 662.4 L1611.5 630.7 L1612.9 605.8 L1614.2 630.7 L1615.6 657.9 L1617.4 630.7 L1619.2 603.6 L1620.6 603.9 L1621.9 612.6 L1623.3 597.1 L1624.7 585.5 L1626.0 621.7 L1627.4 644.3 L1629.2 630.7 L1631.0 621.7 L1632.4 633.7 L1633.7 639.8 L1634.9 636.4 L1636.1 638.9 L1637.3 644.3 L1639.2 667.0 L1641.0 721.3 L1642.8 723.6 L1644.1 722.1 L1645.5 723.6 L1646.9 676.0 L1647.8 644.3 L1649.3 647.8 L1650.9 657.9 L1652.7 623.9 L1654.5 667.0 L1656.4 714.5 L1657.7 667.0 L1658.6 633.0 L1660.2 644.2 L1661.8 662.4 L1663.2 648.3 L1664.5 630.7 L1665.7 636.5 L1666.9 655.1 L1668.1 660.2 L1669.5 642.4 L1670.8 621.7 L1672.1 616.4 L1673.3 624.2 L1674.5 619.4 L1676.3 630.7 L1678.1 639.8 L1679.5 619.1 L1680.8 603.6 L1682.6 612.6 L1684.4 617.1 L1685.8 607.5 L1687.1 598.1 L1688.5 621.7 L1689.9 639.8 L1691.2 649.4 L1692.6 657.9 L1693.8 655.8 L1695.0 660.9 L1696.2 662.4 L1697.4 655.0 L1698.6 653.4 L1699.8 653.4 L1701.0 653.0 L1702.2 647.5 L1703.5 639.8 L1705.3 608.1 L1706.6 644.3 L1708.0 676.0 L1708.9 630.7 L1709.8 592.2 L1711.1 607.2 L1712.5 621.7 L1713.9 642.1 L1715.2 662.4 L1716.6 650.3 L1717.9 630.7 L1719.8 671.5 L1721.1 621.7 L1722.5 583.2 L1723.8 608.1 L1725.2 617.1 L1726.5 612.4 L1727.9 614.9 L1729.3 638.7 L1730.6 662.4 L1731.8 651.2 L1733.0 643.5 L1734.2 639.8 L1735.4 629.8 L1736.7 624.8 L1737.9 621.7 L1739.7 644.3 L1741.5 662.4 L1742.8 646.6 L1744.2 639.8 L1746.0 612.6 L1747.8 592.2 L1749.2 601.8 L1750.5 617.1 L1752.4 639.8 L1754.2 653.4 L1755.4 647.6 L1756.6 645.5 L1757.8 639.8 L1759.0 645.6 L1760.2 648.4 L1761.4 646.6 L1762.8 635.9 L1764.1 620.8 L1765.9 644.3 L1767.7 667.0 L1769.6 691.9 L1770.9 657.9 L1772.3 633.0 L1773.5 638.4 L1774.7 647.7 L1775.9 648.8 L1777.3 685.1 L1778.6 716.8 L1780.4 723.6 L1781.8 685.1 L1783.1 648.8 L1784.5 621.7 L1785.9 603.6 L1787.2 604.7 L1788.6 612.6 L1789.9 617.7 L1791.3 630.7 L1792.5 632.7 L1793.7 629.6 L1794.9 627.1 L1796.3 623.8 L1797.6 626.2 L1799.0 615.2 L1800.3 606.7 L1801.7 609.9 L1803.1 617.1 L1804.4 613.1 L1805.8 610.4 L1807.1 615.3 L1808.5 621.7 L1809.9 644.3 L1811.2 662.4 L1812.6 652.4 L1813.9 644.3 L1815.3 685.1 L1816.6 716.8 L1818.5 723.6 L1819.8 724.0 L1821.2 723.6 L1822.5 685.1 L1823.9 662.4 L1825.1 660.3 L1826.3 652.5 L1827.5 646.6 L1828.7 644.0 L1829.9 639.9 L1831.1 639.8 L1832.3 644.0 L1833.6 647.7 L1834.8 644.3 L1836.0 637.8 L1837.2 638.8 L1838.4 633.0 L1839.7 641.8 L1841.1 646.6 L1842.5 630.7 L1843.8 611.7 L1845.2 618.8 L1846.5 635.3 L1847.7 641.8 L1848.9 644.4 L1850.2 653.4 L1851.4 648.8 L1852.6 651.2 L1853.8 648.8 L1855.0 649.5 L1856.2 648.6 L1857.4 646.6 L1858.3 685.1 L1859.2 722.2 L1860.6 667.0 L1861.9 608.1 L1863.3 626.4 L1864.6 639.8 L1866.0 646.3 L1867.4 648.8 L1868.7 630.5 L1870.1 612.6 L1871.4 639.8 L1872.8 662.4 L1874.0 660.9 L1875.2 671.2 L1876.4 671.5 L1877.8 694.1 L1879.1 712.2 L1880.5 721.3" stroke="#f636f6" stroke-width="1.8"/>
</g>
<rect x="82" y="647" width="1798.500" height="20.200" fill="#165191" fill-opacity="0.325"/>
<rect x="82" y="667.200" width="1798.500" height="57.300" fill="#145193" fill-opacity="0.415"/>
<path d="M77 358 V728.800 H1881.500 V358" fill="none" stroke="#9a9899" stroke-width="2.200"/>
</svg>

<!-- chart axis labels -->
<div class="ax" style="left:30px;top:380px;color:#0a1ef0">77</div>
<div class="ax" style="left:30px;top:448px;color:#0a1ef0">68</div>
<div class="ax" style="left:30px;top:514px;color:#0a1ef0">59</div>
<div class="ax" style="left:30px;top:580px;color:#0a1ef0">50</div>
<div class="ax" style="left:30px;top:646px;color:#0a1ef0">41</div>
<div class="ax" style="left:30px;top:713px;color:#0a1ef0">32</div>

<div class="ax" style="left:1894px;top:402px;color:#d42a12">150</div>
<div class="ax" style="left:1894px;top:506px;color:#d42a12">100</div>
<div class="ax" style="left:1894px;top:610px;color:#d42a12">50</div>
<div class="ax" style="left:1894px;top:714px;color:#d42a12">0</div>

<div class="ax" style="left:2019px;top:432px;color:#f03cee">600</div>
<div class="ax" style="left:2019px;top:526px;color:#f03cee">400</div>
<div class="ax" style="left:2019px;top:620px;color:#f03cee">200</div>
<div class="ax" style="left:2019px;top:714px;color:#f03cee">0</div>

<div class="t" style="left:37.7px;top:743px;width:100px;text-align:center;font-size:18px;color:#5f6064;">0:00:00</div>
<div class="t" style="left:191.8px;top:743px;width:100px;text-align:center;font-size:18px;color:#5f6064;">0:20:00</div>
<div class="t" style="left:347.8px;top:743px;width:100px;text-align:center;font-size:18px;color:#5f6064;">0:40:00</div>
<div class="t" style="left:504.0px;top:743px;width:100px;text-align:center;font-size:18px;color:#5f6064;">1:00:00</div>
<div class="t" style="left:660.0px;top:743px;width:100px;text-align:center;font-size:18px;color:#5f6064;">1:20:00</div>
<div class="t" style="left:816.3px;top:743px;width:100px;text-align:center;font-size:18px;color:#5f6064;">1:40:00</div>
<div class="t" style="left:971.7px;top:743px;width:100px;text-align:center;font-size:18px;color:#5f6064;">2:00:00</div>
<div class="t" style="left:1127.5px;top:743px;width:100px;text-align:center;font-size:18px;color:#5f6064;">2:20:00</div>
<div class="t" style="left:1281.8px;top:743px;width:100px;text-align:center;font-size:18px;color:#5f6064;">2:40:00</div>
<div class="t" style="left:1437.8px;top:743px;width:100px;text-align:center;font-size:18px;color:#5f6064;">3:00:00</div>
<div class="t" style="left:1593.9px;top:743px;width:100px;text-align:center;font-size:18px;color:#5f6064;">3:20:00</div>
<div class="t" style="left:1749.8px;top:743px;width:100px;text-align:center;font-size:18px;color:#5f6064;">3:40:00</div>



<!-- toolbar -->
<div class="abs" style="left:26px;top:284px;width:174px;height:44px;box-sizing:border-box;border:2px solid #c2c2c3;background:#e9e9e9;"></div>
<div class="abs" style="left:28px;top:286px;width:85px;height:40px;background:linear-gradient(#8a8a8a 0%,#6a6a6a 45%,#4a4a4a 100%);color:#fff;font-size:24.500px;text-align:center;line-height:39px;-webkit-text-stroke:0.500px #fff;">Time</div>
<div class="abs" style="left:113px;top:286px;width:85px;height:40px;background:linear-gradient(#f1f1f1,#e5e5e5);color:#a9a9ab;font-size:24.500px;text-align:center;line-height:39px;border-left:1px solid #cfcfcf;box-sizing:border-box;">Dist</div>

<div class="abs" style="left:260px;top:296px;width:220px;height:10px;box-sizing:border-box;background:#ebecee;border-top:2px solid #5a5a5b;border-left:2px solid #666667;border-bottom:1px solid #fbfbfb;"></div>
<div class="abs" style="left:278px;top:282px;width:20px;height:40px;box-sizing:border-box;border:2px solid #b7b7b8;background:linear-gradient(#f9f9f9,#dedede);"></div>

<div class="abs" style="left:1308px;top:284px;width:60px;height:44px;background:#4b7ec2;"></div>
<div class="abs" style="left:1370px;top:284px;width:60px;height:44px;background:#4b7ec2;"></div>
<div class="abs" style="left:1432px;top:284px;width:88px;height:44px;background:#4b7ec2;"></div>
<svg class="abs" style="left:1308px;top:284px" width="212" height="44" viewBox="1308 284 212 44">
<path d="M1344.500 295.500 V317 L1330 306.200 Z" fill="#fff"/>
<path d="M1393.500 295.500 V317 L1408 306.200 Z" fill="#fff"/>
<rect x="1461.500" y="294.200" width="6.400" height="24" fill="#fff"/>
<rect x="1469.800" y="302" width="6.300" height="16.200" fill="#fff"/>
<rect x="1477.800" y="294.200" width="6.400" height="24" fill="#fff"/>
<rect x="1486" y="302" width="6.200" height="16.200" fill="#fff"/>
</svg>

<div class="seg off" style="left:1540px;width:88px;">RPM</div>
<div class="seg off" style="left:1626px;width:88px;">FT</div>
<div class="seg" style="left:1712px;width:88px;background:linear-gradient(#efb2ab 0%,#e0554a 50%,#d22e1c 100%);color:#fff;border:2px solid #b1adad;-webkit-text-stroke:0.4px #fff;">BPM</div>
<div class="seg" style="left:1798px;width:88px;background:linear-gradient(#f7c4f7 0%,#ee5cf0 55%,#ea35ef 100%);color:#fff;border:2px solid #b3adb3;-webkit-text-stroke:0.4px #fff;">W</div>
<div class="seg off" style="left:1884px;width:88px;">MPH</div>
<div class="seg" style="left:1970px;width:88px;background:linear-gradient(#2f6df2 0%,#0a36ee 60%,#0020e8 100%);color:#fff;border:2px solid #a9abb5;-webkit-text-stroke:0.4px #fff;">F</div>

<!-- resize grip -->
<svg class="abs" style="left:2050px;top:750px" width="24" height="24" viewBox="2050 750 24 24"><g fill="#4c4c4d"><rect x="2066" y="754" width="2.100" height="2.100"/><rect x="2064" y="756" width="2.100" height="2.100"/><rect x="2062" y="758" width="2.100" height="2.100"/><rect x="2066" y="758" width="2.100" height="2.100"/><rect x="2060" y="760" width="2.100" height="2.100"/><rect x="2064" y="760" width="2.100" height="2.100"/><rect x="2058" y="762" width="2.100" height="2.100"/><rect x="2062" y="762" width="2.100" height="2.100"/><rect x="2066" y="762" width="2.100" height="2.100"/><rect x="2056" y="764" width="2.100" height="2.100"/><rect x="2060" y="764" width="2.100" height="2.100"/><rect x="2064" y="764" width="2.100" height="2.100"/><rect x="2054" y="766" width="2.100" height="2.100"/><rect x="2058" y="766" width="2.100" height="2.100"/><rect x="2062" y="766" width="2.100" height="2.100"/><rect x="2066" y="766" width="2.100" height="2.100"/></g></svg>

<div class="t" style="left:948px;top:807.5px;font-size:24px;font-weight:bold;color:#2d2d2f;letter-spacing:0.28px;">Power By Zones</div>
<div class="t" style="left:67.5px;top:871px;font-size:18.5px;color:#5a5b60;letter-spacing:0.4px;">100</div>
<div class="abs" style="left:122px;top:878px;width:2px;height:46px;background:#c3c2c4;"></div>


<!-- right panel -->
<div class="abs" style="left:2110px;top:906px;width:656px;height:2px;background:#c9c8ca;"></div>

<div class="t" style="left:2158px;top:225px;width:200px;text-align:center;font-size:20px;color:#5c5d61;">Duration</div>
<div class="t" style="left:2156px;top:246px;width:200px;text-align:center;font-size:50px;color:#343436;letter-spacing:-0.5px;">3:49:31</div>
<div class="t" style="left:2381px;top:225px;width:200px;text-align:center;font-size:20px;color:#5c5d61;">Distance</div>
<div class="t" style="left:2381px;top:246px;width:200px;text-align:center;font-size:50px;color:#343436;letter-spacing:-0.5px;">55.6<span style="font-size:29px;margin-left:9px;letter-spacing:0">mi</span></div>
<div class="t" style="left:2567px;top:225px;width:200px;text-align:center;font-size:20px;color:#5c5d61;">TSS</div>
<div class="t" style="left:2567px;top:246px;width:200px;text-align:center;font-size:50px;color:#343436;letter-spacing:-0.5px;">310</div>

<div class="abs" style="left:2268px;top:330px;width:2px;height:240px;background:#cfcecf;"></div>
<div class="abs" style="left:2594px;top:330px;width:2px;height:200px;background:#cfcecf;"></div>

<div class="lab" style="left:2048px;width:200px;top:341px;">Work</div>
<div class="val" style="left:2287px;top:338px;">2378 <span>kJ</span></div>
<div class="lab" style="left:2048px;width:200px;top:381px;">NP</div>
<div class="val" style="left:2287px;top:378px;">198 <span>W</span></div>
<div class="lab" style="left:2048px;width:200px;top:421px;">Pw:Hr</div>
<div class="val" style="left:2287px;top:418px;">10.73%</div>
<div class="lab" style="left:2048px;width:200px;top:461px;">El. Gain</div>
<div class="val" style="left:2287px;top:458px;">2618 <span>ft</span></div>
<div class="lab" style="left:2048px;width:200px;top:501px;">El. Loss</div>
<div class="val" style="left:2287px;top:498px;">2641 <span>ft</span></div>
<div class="lab" style="left:2048px;width:200px;top:541px;">VAM W/kg</div>
<div class="val" style="left:2287px;top:538px;">1.04</div>

<div class="lab" style="left:2374px;width:200px;top:341px;">IF</div>
<div class="val" style="left:2613px;top:338px;">0.90</div>
<div class="lab" style="left:2374px;width:200px;top:381px;">VI</div>
<div class="val" style="left:2613px;top:378px;">1.14</div>
<div class="lab" style="left:2374px;width:200px;top:421px;">EF</div>
<div class="val" style="left:2613px;top:418px;">1.64</div>
<div class="lab" style="left:2374px;width:200px;top:461px;">Grade</div>
<div class="val" style="left:2613px;top:458px;">--</div>
<div class="lab" style="left:2374px;width:200px;top:501px;">VAM</div>
<div class="val" style="left:2613px;top:498px;">209 <span>m/h</span></div>

<div class="abs" style="left:2130px;top:608px;width:630px;height:2px;background:#cdcccd;"></div>

<div class="num" style="left:2263px;top:650px;color:#5c5d61;">MIN</div>
<div class="num" style="left:2371px;top:650px;color:#5c5d61;">AVG</div>
<div class="num" style="left:2479px;top:650px;color:#5c5d61;">MAX</div>

<div class="abs" style="left:2268px;top:689px;width:2px;height:218px;background:#cfcecf;"></div>
<div class="abs" style="left:2594px;top:689px;width:2px;height:218px;background:#cfcecf;"></div>

<div class="lab" style="left:2048px;width:200px;top:703px;">Power</div>
<div class="num" style="left:2263px;top:700px;">0</div><div class="num" style="left:2371px;top:700px;">173</div><div class="num" style="left:2479px;top:700px;">903</div>
<div class="unit" style="left:2612.5px;top:703px;">W</div>
<div class="lab" style="left:2048px;width:200px;top:751px;">Heart Rate</div>
<div class="num" style="left:2263px;top:748px;">55</div><div class="num" style="left:2371px;top:748px;">121</div><div class="num" style="left:2479px;top:748px;">174</div>
<div class="unit" style="left:2612.5px;top:751px;">bpm</div>
<div class="lab" style="left:2048px;width:200px;top:799px;">Cadence</div>
<div class="num" style="left:2263px;top:796px;">10</div><div class="num" style="left:2371px;top:796px;">70</div><div class="num" style="left:2479px;top:796px;">124</div>
<div class="unit" style="left:2612.5px;top:799px;">rpm</div>
<div class="lab" style="left:2048px;width:200px;top:847px;">Speed</div>
<div class="num" style="left:2263px;top:844px;">0.00</div><div class="num" style="left:2371px;top:844px;">14.5</div><div class="num" style="left:2479px;top:844px;">39.6</div>
<div class="unit" style="left:2612.5px;top:847px;">mph</div>
<div class="abs" style="left:2110px;top:880px;width:656px;height:26px;overflow:hidden;">
<div class="lab" style="left:-62px;width:200px;top:15px;">Pace</div>
<div class="num" style="left:153px;top:12px;">00:00</div><div class="num" style="left:261px;top:12px;">04:08</div><div class="num" style="left:369px;top:12px;">01:31</div>
<div class="unit" style="left:502.5px;top:15px;">min/mi</div>
</div>

<!-- header -->
<div id="hdr" class="abs"></div>
<div id="orange" class="abs"></div>
<div class="t" style="left:45px;top:35px;font-size:32px;color:#0a0a0a;-webkit-text-stroke:0.35px #0a0a0a;letter-spacing:0.1px;">Aerobic Endurance - Range 4.0</div>

<!-- tiny clipped descenders from the row above -->
<div class="abs" style="left:174px;top:-5px;width:11.500px;height:8px;box-sizing:border-box;border:2.300px solid #6e6f74;border-top:none;border-radius:0 0 6px 6px"></div>
<div class="abs" style="left:241.500px;top:-2px;width:2.600px;height:3.600px;background:#6e6f74;transform:skewX(-28deg)"></div>
<div class="abs" style="left:990px;top:-5px;width:9px;height:7.400px;box-sizing:border-box;border:2.200px solid #ec3fe0;border-top:none;border-radius:0 0 5px 5px"></div>

<!-- bike icon -->
<svg class="abs" style="left:44px;top:86px" width="86" height="58" viewBox="44 86 86 58">
<g fill="none" stroke="#ffffff" stroke-linecap="round" stroke-linejoin="round">
<circle cx="62.9" cy="123.5" r="11.5" stroke-width="6.8"/>
<circle cx="108.9" cy="123.5" r="11.5" stroke-width="6.8"/>
<path d="M68.3 94.9 H77.7" stroke-width="6.4"/>
<path d="M97 94.9 H105" stroke-width="6.4" stroke-linecap="butt"/>
<path d="M96.9 94.9 H104" stroke-width="6.4"/>
<path d="M72 96 L61 124 H82.5 L98 107" stroke-width="5.6"/>
<path d="M70 105.8 H97.5" stroke-width="5.6"/>
<path d="M97.3 96 L108.9 124" stroke-width="5.6"/>
</g>
<rect x="101" y="91.7" width="6.9" height="6.4" fill="#fff"/>
</svg>

<div class="t" style="left:179px;top:94px;font-size:46px;font-weight:bold;color:#0a0a0a;letter-spacing:-2.4px;">3:49:31</div>
<div class="t" style="left:374.500px;top:94px;font-size:46px;font-weight:bold;color:#0a0a0a;letter-spacing:-0.1px;">55.6<span style="font-size:32px;letter-spacing:0.6px;margin-left:7px">mi</span></div>
<div class="t" style="left:556px;top:94px;font-size:46px;font-weight:bold;color:#0a0a0a;letter-spacing:-0.6px;">310<span style="font-size:32px;letter-spacing:0.2px;margin-left:9px">TSS</span></div>
<svg class="abs" style="left:702px;top:92px" width="32" height="24" viewBox="702 92 32 24"><path d="M707.400 108.700 L717.400 98.600 L727.400 108.700" fill="none" stroke="#fff" stroke-width="4.600"/></svg>

<!-- medal -->
<svg class="abs" style="left:896px;top:102px" width="32" height="40" viewBox="896 102 32 40">
<circle cx="911" cy="127.5" r="10" fill="#4b4b4d"/>
<path d="M901 111.5 L906 106.2 L909.5 116 L903.8 118 Z" fill="#4b4b4d"/>
<path d="M921 111.5 L916 106.2 L912.5 116 L918.2 118 Z" fill="#4b4b4d"/>
<path d="M907.3 106.2 H914.7 L913.3 110 H908.7 Z" fill="#4b4b4d"/>
</svg>
<div class="t" style="left:925.5px;top:109px;font-size:26px;color:#4b4b4d;letter-spacing:-1.5px;">x1</div>
<div class="abs" style="left:967.5px;top:102px;width:2px;height:40px;background:#a3672e;"></div>
<svg class="abs" style="left:980px;top:102px" width="38" height="38" viewBox="980 102 38 38">
<circle cx="998.7" cy="120.7" r="14.6" fill="none" stroke="#4b4b4d" stroke-width="1.9"/>
<ellipse cx="994" cy="117" rx="1.5" ry="2.2" fill="#4b4b4d"/>
<ellipse cx="1003.8" cy="117" rx="1.5" ry="2.2" fill="#4b4b4d"/>
<path d="M991.8 126.2 Q998.7 131 1005.8 126.2" fill="none" stroke="#4b4b4d" stroke-width="1.9" stroke-linecap="round"/>
</svg>
<div class="t" style="left:1023px;top:109px;font-size:26px;color:#4b4b4d;">4</div>
<div class="abs" style="left:1052px;top:102px;width:2px;height:40px;background:#a3672e;"></div>
<svg class="abs" style="left:1064px;top:106px" width="38" height="32" viewBox="1064 106 38 32">
<path d="M1078.5 110.5 c6 0 10.8 3.6 10.8 8 s-4.800 8 -10.800 8 c-1.400 0 -2.700 -0.200 -3.900 -0.500 c-1.700 1 -4.200 1.500 -6.300 1.300 c1.300 -0.900 2.300 -2 2.600 -3.200 c-2 -1.400 -3.200 -3.400 -3.200 -5.600 c0 -4.400 4.800 -8 10.800 -8z" fill="#4b4b4d"/>
<path d="M1091.400 118.300 c3.600 1.100 6.200 3.700 6.200 6.900 c0 2.100 -1.100 3.900 -2.900 5.200 c0.300 1.200 1.200 2.300 2.400 3.100 c-2 0.200 -4.400 -0.300 -6 -1.300 c-1.100 0.300 -2.300 0.400 -3.500 0.400 c-3.900 0 -7.300 -1.600 -9 -4 c7 0 12.800 -4.400 12.800 -9.600 z" fill="#4b4b4d"/>
</svg>
<div class="t" style="left:1103.5px;top:109px;font-size:26px;color:#4b4b4d;letter-spacing:-0.3px;">x2</div>

<!-- Files / Summary -->
<div class="btn" style="left:1172px;top:10px;width:172px;height:70px;"></div>
<svg class="abs" style="left:1190px;top:30px" width="40" height="30" viewBox="1190 30 40 30">
<path d="M1194 36.200 V52 H1220 V36.200" fill="none" stroke="#c6c7ca" stroke-width="3.800"/>
<rect x="1198.100" y="38.100" width="17.900" height="3.700" fill="#c6c7ca"/>
<rect x="1198.100" y="44.300" width="17.900" height="3.700" fill="#c6c7ca"/>
</svg>
<div class="t" style="left:1240px;top:34px;font-size:24px;color:#6b6c72;letter-spacing:-0.3px;">Files</div>
<div class="btn" style="left:1172px;top:100px;width:172px;height:70px;"></div>
<svg class="abs" style="left:1190px;top:128px" width="34" height="20" viewBox="1190 128 34 20">
<g fill="#c6c7ca"><rect x="1192" y="130.1" width="13.900" height="3.750"/><rect x="1208" y="130.1" width="13.900" height="3.750"/><rect x="1192" y="136.15" width="13.900" height="3.750"/><rect x="1208" y="136.15" width="13.900" height="3.750"/><rect x="1192" y="142.15" width="13.900" height="3.750"/><rect x="1208" y="142.15" width="13.900" height="3.750"/></g>
</svg>
<div class="t" style="left:1232px;top:128px;font-size:24px;color:#6b6c72;letter-spacing:-0.15px;">Summary</div>

<div class="abs" style="left:1364px;top:10px;width:2px;height:160px;background:#c4c5c8;"></div>

<!-- right small icons -->
<svg class="abs" style="left:1390px;top:4px" width="52" height="172" viewBox="1390 4 52 172">
<g fill="#d9d9dc" stroke="#9e9ea1" stroke-width="1.800">
<rect x="1397" y="10.900" width="8.400" height="32"/>
<rect x="1411" y="21" width="8.400" height="21.900"/>
<rect x="1425" y="31" width="8.400" height="11.900"/>
<path d="M1415 73.500 c9.700 0 17.600 6.500 17.600 14.500 s-7.900 14.500 -17.600 14.500 c-1.700 0 -3.300 -0.200 -4.800 -0.500 l-6.200 5.800 v-7.600 c-4 -2.700 -6.600 -7.200 -6.600 -12.200 c0 -8 7.900 -14.500 17.600 -14.500z"/>
<path d="M1397 168.600 V151 L1403.500 158.500 L1415 147.500 L1420.500 153.500 L1433 142.500 V168.600 Z"/>
<path d="M1397 144 L1403.500 151 L1415 140.500 L1420.500 146.500 L1433 133.500" fill="none"/>
</g>
</svg>

<!-- Cancel / Save / Save & Close -->
<div class="btn2" style="left:2258px;top:126px;width:150px;height:44px;line-height:41px;">Cancel</div>
<div class="btn2" style="left:2424px;top:126px;width:150px;height:44px;line-height:41px;">Save</div>
<div class="abs" style="left:2590px;top:126px;width:150px;height:44px;background:#2463cf;color:#fff;font-size:20px;font-weight:bold;text-align:center;line-height:45px;letter-spacing:-0.45px;">Save &amp; Close</div>

</body>
</html>
